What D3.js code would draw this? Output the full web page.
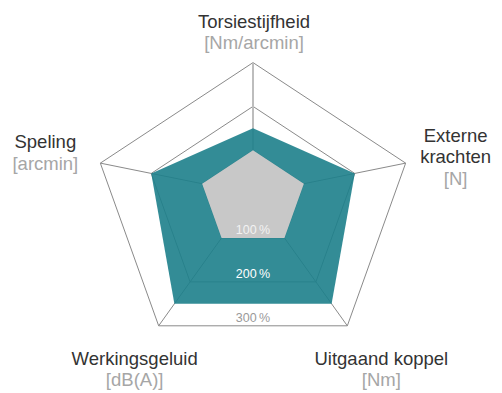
<!DOCTYPE html>
<html>
<head>
<meta charset="utf-8">
<script src="https://cdn.jsdelivr.net/npm/d3@7"></script>
<style>
  html, body { margin: 0; padding: 0; background: #fff; }
  svg { display: block; }
  text { font-family: "Liberation Sans", Arial, Helvetica, sans-serif; }
</style>
</head>
<body>
<svg id="chart" width="502" height="393"></svg>
<script>
// Axes, clockwise from the top
const axisNames = ["Torsiestijfheid", "Externe krachten", "Uitgaand koppel", "Werkingsgeluid", "Speling"];
const axisTitleLines = [["Torsiestijfheid"], ["Externe", "krachten"], ["Uitgaand koppel"], ["Werkingsgeluid"], ["Speling"]];
const axisUnits = ["[Nm/arcmin]", "[N]", "[Nm]", "[dB(A)]", "[arcmin]"];

// Grid levels (percent) and their labels
const gridLevels = [100, 200, 300];
const gridLabels = ["100\u2009%", "200\u2009%", "300\u2009%"];

// Series values in percent, one per axis
const referenceValues = [100, 100, 100, 100, 100];
const productValues = [150, 200, 250, 250, 200];

const svg = d3.select("#chart");
const cx = 253, cy = 194;

// The web is drawn slightly tilted: horizontal and vertical radii differ
// and the rings drift downwards as they grow.
const rx = d3.scaleLinear().domain([0, 100]).range([0, 53.5]);
const ry = d3.scaleLinear().domain([0, 100]).range([0, 48.5]);
const drift = d3.scaleLinear().domain([0, 100]).range([0, 4.7]);
const angle = d3.scaleLinear().domain([0, axisNames.length]).range([0, 2 * Math.PI]);

function point(i, v) {
  const a = angle(i);
  return [cx + rx(v) * Math.sin(a), cy - ry(v) * Math.cos(a) + drift(v)];
}
const ring = vals => vals.map((v, i) => point(i, v));
const closed = d3.line().curve(d3.curveLinearClosed);
const maxLevel = d3.max(gridLevels);

// Grid: rings
const grid = svg.append("g");
grid.selectAll("path.ring")
  .data(gridLevels)
  .join("path")
  .attr("class", "ring")
  .attr("d", lv => closed(ring(axisNames.map(() => lv))))
  .attr("fill", "none")
  .attr("stroke", "#8a8a8a")
  .attr("stroke-width", 1);

// Grid: spokes
grid.selectAll("line.spoke")
  .data(axisNames)
  .join("line")
  .attr("class", "spoke")
  .attr("x1", (d, i) => point(i, 0)[0])
  .attr("y1", (d, i) => point(i, 0)[1])
  .attr("x2", (d, i) => point(i, maxLevel)[0])
  .attr("y2", (d, i) => point(i, maxLevel)[1])
  .attr("stroke", (d, i) => i === 0 ? "#bdbdbd" : "#8a8a8a")
  .attr("stroke-width", (d, i) => i === 0 ? 2 : 1);

// Product series (teal, lets the grid show through a little)
svg.append("path")
  .attr("d", closed(ring(productValues)))
  .attr("fill", "rgb(29,128,139)")
  .attr("fill-opacity", 0.9);

// Reference series (100 %)
svg.append("path")
  .attr("d", closed(ring(referenceValues)))
  .attr("fill", "#c8c8c8");

// Ring labels above the bottom edge of each ring
const labelColors = ["#f2f2f2", "#ffffff", "#9a9a9a"];
svg.selectAll("text.level")
  .data(gridLevels)
  .join("text")
  .attr("class", "level")
  .attr("x", cx)
  .attr("y", lv => point(2, lv)[1] - 3.5)
  .attr("text-anchor", "middle")
  .attr("font-size", 12.5)
  .attr("fill", (lv, i) => labelColors[i])
  .text((lv, i) => gridLabels[i]);

// Axis titles with units, offset from the outer vertex
const titleOffsets = [[1, -35], [50, -21.5], [34, 39], [-24, 39], [-55, -15]];
const lineGap = 21.5;
axisNames.forEach((name, i) => {
  const [vx, vy] = point(i, maxLevel);
  const tx = vx + titleOffsets[i][0];
  const ty = vy + titleOffsets[i][1];
  const lines = axisTitleLines[i];
  const t = svg.append("text")
    .attr("x", tx).attr("y", ty)
    .attr("text-anchor", "middle")
    .attr("font-size", 18.5);
  lines.forEach((ln, k) => {
    t.append("tspan").attr("x", tx).attr("y", ty + k * lineGap)
      .attr("fill", "#333").text(ln);
  });
  t.append("tspan").attr("x", tx).attr("y", ty + lines.length * lineGap)
    .attr("fill", "#a6a6a6").text(axisUnits[i]);
});
</script>
</body>
</html>
